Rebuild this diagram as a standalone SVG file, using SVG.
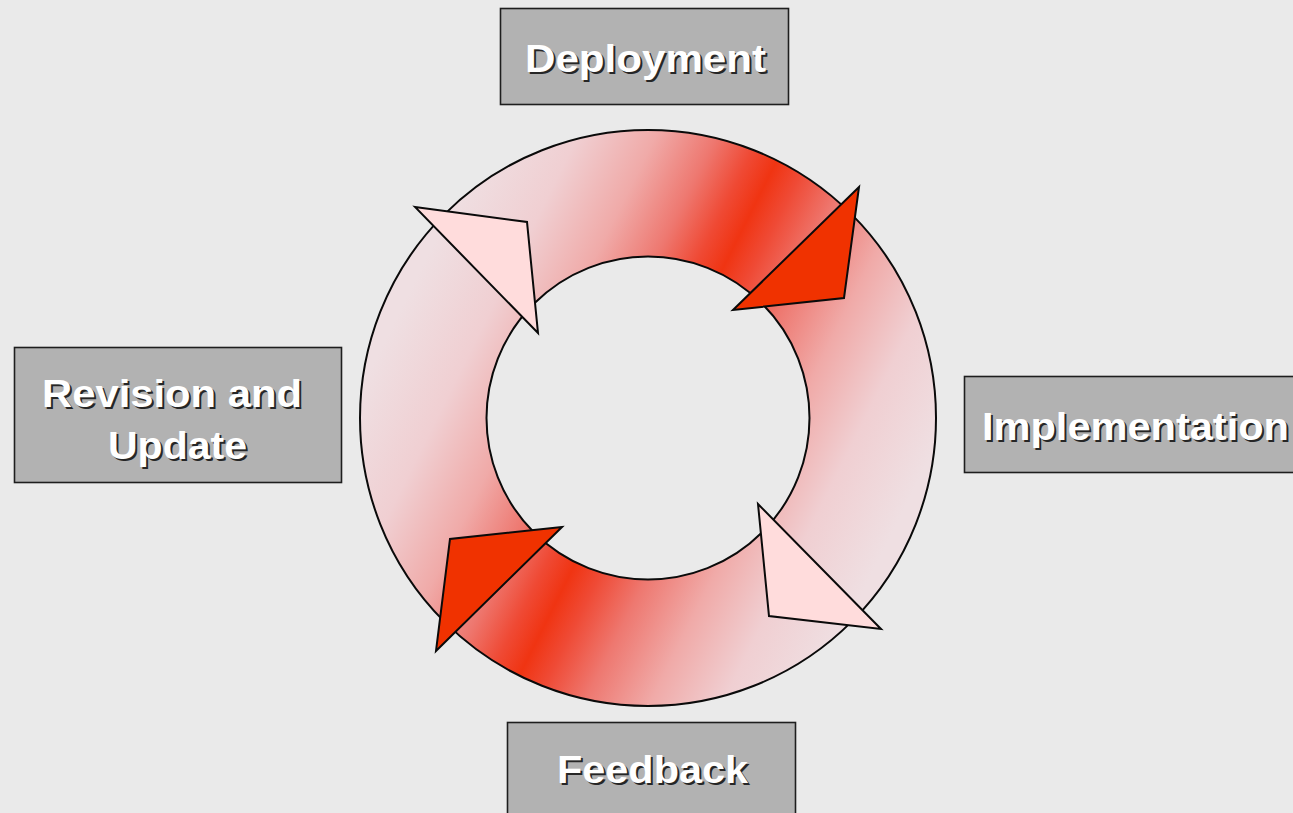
<svg xmlns="http://www.w3.org/2000/svg" width="1293" height="813" viewBox="0 0 1293 813">
<style>
.box{fill:#b2b2b2;stroke:#1e1e1e;stroke-width:1.6}
.lbl{font-family:"Liberation Sans",Arial,sans-serif;font-weight:bold;font-size:39px}
.sh{fill:#262626}
.tx{fill:#ffffff}
.ring{stroke:#0a0a0a;stroke-width:2;fill-rule:evenodd}
.head{stroke:#0a0a0a;stroke-width:2;stroke-linejoin:miter}
.red{fill:#f03200}
.pink{fill:#ffdcdc}
</style>
<defs>
<linearGradient id="ringGrad" gradientUnits="userSpaceOnUse" x1="406.6" y1="297.3" x2="889.4" y2="538.7">
<stop offset="0" stop-color="#efdfe2"/>
<stop offset="0.15" stop-color="#f0cfd2"/>
<stop offset="0.28" stop-color="#f0aaa8"/>
<stop offset="0.38" stop-color="#ee7870"/>
<stop offset="0.45" stop-color="#ef4a35"/>
<stop offset="0.5" stop-color="#f03412"/>
<stop offset="0.55" stop-color="#ef4a35"/>
<stop offset="0.63" stop-color="#ee7870"/>
<stop offset="0.74" stop-color="#f0aaa8"/>
<stop offset="0.86" stop-color="#f0cfd2"/>
<stop offset="1" stop-color="#efdfe2"/>
</linearGradient>
</defs>
<rect x="0" y="0" width="1293" height="813" fill="#eaeaea"/>
<g id="connectors">
<path class="ring" fill="url(#ringGrad)" d="M360,418 A288,288 0 1,0 936,418 A288,288 0 1,0 360,418 Z M486.5,418 A161.5,161.5 0 1,0 809.5,418 A161.5,161.5 0 1,0 486.5,418 Z"/>
<polygon class="head red" points="859,187 844,298 733,310"/>
<polygon class="head pink" points="415,207 527,222 538,333"/>
<polygon class="head red" points="562,527 450,539 436,651"/>
<polygon class="head pink" points="758,504 769,616 881,629"/>
</g>
<g id="node-deployment">
<rect class="box" x="500.5" y="8.5" width="288" height="96"/>
<text class="lbl sh" x="527" y="74" textLength="241" lengthAdjust="spacingAndGlyphs">Deployment</text>
<text class="lbl tx" x="525" y="72" textLength="241" lengthAdjust="spacingAndGlyphs">Deployment</text>
</g>
<g id="node-implementation">
<rect class="box" x="964.5" y="376.5" width="340" height="96"/>
<text class="lbl sh" x="984" y="442" textLength="307" lengthAdjust="spacingAndGlyphs">Implementation</text>
<text class="lbl tx" x="982" y="440" textLength="307" lengthAdjust="spacingAndGlyphs">Implementation</text>
</g>
<g id="node-feedback">
<rect class="box" x="507.5" y="722.5" width="288" height="96"/>
<text class="lbl sh" x="559" y="785" textLength="191" lengthAdjust="spacingAndGlyphs">Feedback</text>
<text class="lbl tx" x="557" y="783" textLength="191" lengthAdjust="spacingAndGlyphs">Feedback</text>
</g>
<g id="node-revision">
<rect class="box" x="14.5" y="347.5" width="327" height="135"/>
<text class="lbl sh" x="44" y="409" textLength="260" lengthAdjust="spacingAndGlyphs">Revision and</text>
<text class="lbl tx" x="42" y="407" textLength="260" lengthAdjust="spacingAndGlyphs">Revision and</text>
<text class="lbl sh" x="110" y="461" textLength="139" lengthAdjust="spacingAndGlyphs">Update</text>
<text class="lbl tx" x="108" y="459" textLength="139" lengthAdjust="spacingAndGlyphs">Update</text>
</g>
</svg>
